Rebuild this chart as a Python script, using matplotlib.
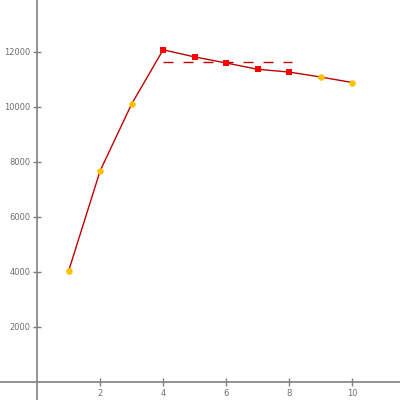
import matplotlib
matplotlib.use("Agg")
import matplotlib.pyplot as plt
import numpy as np

x = [1, 2, 3, 4, 5, 6, 7, 8, 9, 10]
y = [4040, 7680, 10110, 12080, 11820, 11600, 11370, 11270, 11090, 10890]
highlight = [False, False, False, True, True, True, True, True, False, False]
xticks = [2, 4, 6, 8, 10]
yticks = [2000, 4000, 6000, 8000, 10000, 12000]

line_color = "#c00000"
red = "#ff0000"
orange = "#ffc000"

fig = plt.figure(figsize=(4, 4), dpi=100)
ax = fig.add_axes([0, 0, 1, 1])

ax.plot(x, y, color=line_color, lw=1, zorder=2)
hx = [xi for xi, h in zip(x, highlight) if h]
hy = [yi for yi, h in zip(y, highlight) if h]
ox = [xi for xi, h in zip(x, highlight) if not h]
oy = [yi for yi, h in zip(y, highlight) if not h]
ax.scatter(ox, oy, s=22, color=orange, zorder=3, linewidths=0)
ax.scatter(hx, hy, s=22, color=red, zorder=3, linewidths=0, marker='s')
mean_h = np.mean(hy)
ax.plot([hx[0], hx[-1] + 0.1], [mean_h, mean_h], color=line_color, lw=1,
        dashes=(7.2, 7.2), zorder=2)

ax.set_xlim(-1.18, 11.52)
ax.set_ylim(-655, 13890)

for s in ["top", "right"]:
    ax.spines[s].set_visible(False)
ax.spines["left"].set_position(("data", 0))
ax.spines["bottom"].set_position(("data", 0))
for s in ["left", "bottom"]:
    ax.spines[s].set_color("#808080")
    ax.spines[s].set_linewidth(1.2)

ax.set_xticks(xticks)
ax.set_yticks(yticks)
ax.set_xticklabels([str(t) for t in xticks])
ax.set_yticklabels([str(t) for t in yticks])
ax.tick_params(direction="inout", length=6, width=1, color="#808080",
               labelsize=6, labelcolor="#707070", pad=2)
ax.set_facecolor("white")

fig.savefig("out.png", dpi=100)
